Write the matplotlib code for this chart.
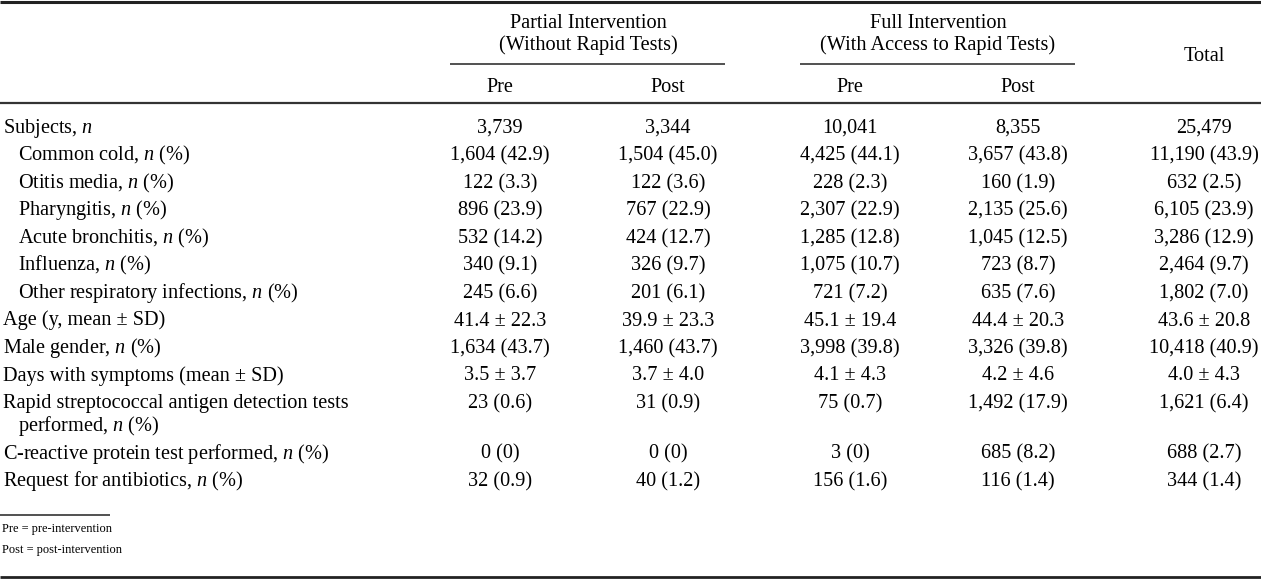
import matplotlib.pyplot as plt

# Tabla de caracteristicas de los pacientes

plt.rcParams['font.family'] = ['Liberation Serif', 'DejaVu Serif']
plt.rcParams['mathtext.fontset'] = 'custom'
plt.rcParams['mathtext.rm'] = 'Liberation Serif'
plt.rcParams['mathtext.it'] = 'Liberation Serif:italic'

group_titles = [["Partial Intervention", "(Without Rapid Tests)"],
                ["Full Intervention", "(With Access to Rapid Tests)"]]
sub_headers = ["Pre", "Post", "Pre", "Post"]
total_header = "Total"

row_labels = ["Subjects, $n$",
              "Common cold, $n$ (%)",
              "Otitis media, $n$ (%)",
              "Pharyngitis, $n$ (%)",
              "Acute bronchitis, $n$ (%)",
              "Influenza, $n$ (%)",
              "Other respiratory infections, $n$ (%)",
              "Age (y, mean \u00b1 SD)",
              "Male gender, $n$ (%)",
              "Days with symptoms (mean \u00b1 SD)",
              "Rapid streptococcal antigen detection tests\nperformed, $n$ (%)",
              "C-reactive protein test performed, $n$ (%)",
              "Request for antibiotics, $n$ (%)"]
indented = [False, True, True, True, True, True, True,
            False, False, False, False, False, False]

partial_pre = ["3,739", "1,604 (42.9)", "122 (3.3)", "896 (23.9)", "532 (14.2)",
               "340 (9.1)", "245 (6.6)", "41.4 \u00b1 22.3", "1,634 (43.7)",
               "3.5 \u00b1 3.7", "23 (0.6)", "0 (0)", "32 (0.9)"]
partial_post = ["3,344", "1,504 (45.0)", "122 (3.6)", "767 (22.9)", "424 (12.7)",
                "326 (9.7)", "201 (6.1)", "39.9 \u00b1 23.3", "1,460 (43.7)",
                "3.7 \u00b1 4.0", "31 (0.9)", "0 (0)", "40 (1.2)"]
full_pre = ["10,041", "4,425 (44.1)", "228 (2.3)", "2,307 (22.9)", "1,285 (12.8)",
            "1,075 (10.7)", "721 (7.2)", "45.1 \u00b1 19.4", "3,998 (39.8)",
            "4.1 \u00b1 4.3", "75 (0.7)", "3 (0)", "156 (1.6)"]
full_post = ["8,355", "3,657 (43.8)", "160 (1.9)", "2,135 (25.6)", "1,045 (12.5)",
             "723 (8.7)", "635 (7.6)", "44.4 \u00b1 20.3", "3,326 (39.8)",
             "4.2 \u00b1 4.6", "1,492 (17.9)", "685 (8.2)", "116 (1.4)"]
total = ["25,479", "11,190 (43.9)", "632 (2.5)", "6,105 (23.9)", "3,286 (12.9)",
         "2,464 (9.7)", "1,802 (7.0)", "43.6 \u00b1 20.8", "10,418 (40.9)",
         "4.0 \u00b1 4.3", "1,621 (6.4)", "688 (2.7)", "344 (1.4)"]

footnotes = ["Pre = pre-intervention", "Post = post-intervention"]

W, H = 1261, 579
fig = plt.figure(figsize=(W / 100, H / 100), dpi=100)
ax = fig.add_axes([0, 0, 1, 1])
ax.set_xlim(0, W)
ax.set_ylim(H, 0)
ax.axis("off")

fs = 14.6
bl = 6  # distancia del centro a la linea base
col_x = [500, 668, 850, 1018, 1204]
columns = [partial_pre, partial_post, full_pre, full_post, total]

# reglas horizontales
ax.hlines(1.5, 0, W, color="#222222", lw=2.2)
ax.hlines(102.5, 0, W, color="#333333", lw=1.6)
ax.hlines(576.5, 0, W, color="#222222", lw=2.0)
ax.hlines(64, 450, 725, color="#222222", lw=1.1)
ax.hlines(64, 800, 1075, color="#222222", lw=1.1)
ax.hlines(515, 0, 110, color="#222222", lw=1.1)

# encabezados
for cx, (t1, t2) in zip([588, 938], group_titles):
    ax.text(cx, 22 + bl, t1, ha="center", va="baseline", fontsize=fs)
    ax.text(cx, 44 + bl, t2, ha="center", va="baseline", fontsize=fs)
ax.text(col_x[4], 55 + bl, total_header, ha="center", va="baseline", fontsize=fs)
for x, h in zip(col_x[:4], sub_headers):
    ax.text(x, 86 + bl, h, ha="center", va="baseline", fontsize=fs)

# filas
y = 127
step = 27.5
for i, lab in enumerate(row_labels):
    x0 = 18 if indented[i] else 3
    if "\n" in lab:
        first, second = lab.split("\n")
        ax.text(x0, y + bl, first, ha="left", va="baseline", fontsize=fs)
        ax.text(x0 + 15, y + 23 + bl, second, ha="left", va="baseline", fontsize=fs)
    else:
        ax.text(x0, y + bl, lab, ha="left", va="baseline", fontsize=fs)
    for x, col in zip(col_x, columns):
        ax.text(x, y + bl, col[i], ha="center", va="baseline", fontsize=fs)
    y += step + (23 if "\n" in lab else 0)

# notas al pie
ax.text(2, 532, footnotes[0], ha="left", va="baseline", fontsize=8.9)
ax.text(2, 553, footnotes[1], ha="left", va="baseline", fontsize=8.9)

plt.savefig("out.png", dpi=100)
